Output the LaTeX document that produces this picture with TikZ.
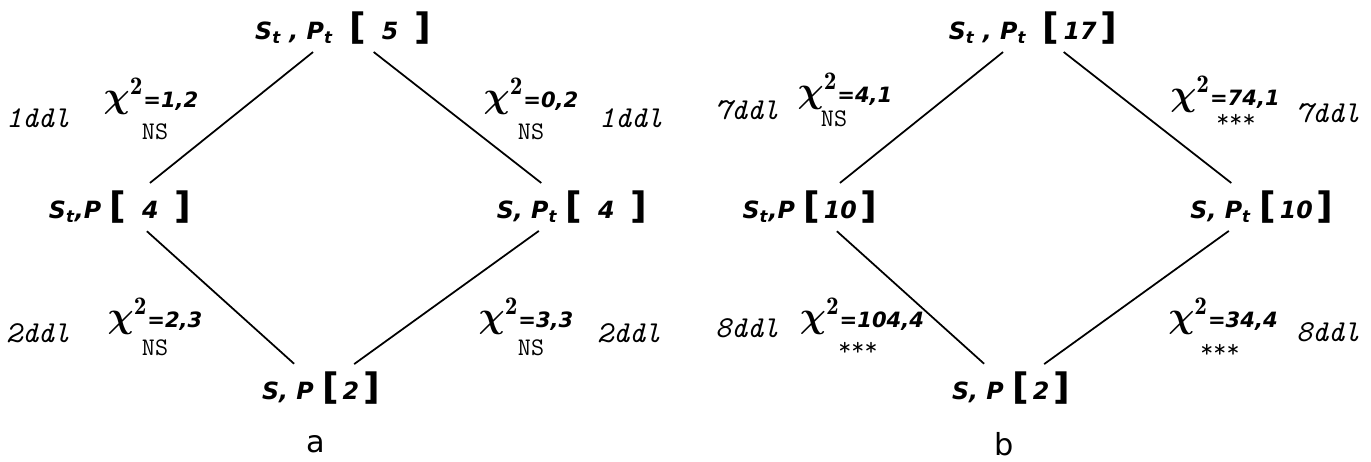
\documentclass[tikz,border=0pt]{standalone}
\usepackage{amsmath}
\usepackage{fontspec}
\setsansfont{DejaVu Sans}
\usetikzlibrary{positioning}
\newcommand{\brk}[1]{{\huge\upshape[}\,#1\,{\huge\upshape]}}
\newcommand{\chisq}[1]{{\huge$\boldsymbol{\chi}^{\mathbf{2}}$}{\large\sffamily\bfseries\itshape=#1}}

\begin{document}
\begin{tikzpicture}[
    set/.style={font=\fontsize{13.5}{15}\selectfont\sffamily\bfseries\itshape, inner sep=3pt},
    stat/.style={inner sep=1pt},
    ddl/.style={font=\LARGE\ttfamily\itshape},
    sig/.style={font=\Large\ttfamily},
    panel/.style={font=\LARGE\sffamily},
    link/.style={line width=1pt, shorten <=2pt, shorten >=2pt}
]
\useasboundingbox (0,0) rectangle (27.42,9.24);

% Panel a
\node[set] (topA) at (6.86,8.68) {S\textsubscript{t} , P\textsubscript{t} \ \brk{\enspace5\enspace}};
\node[set] (leftA) at (2.40,5.10) {S\textsubscript{t},P \brk{\enspace4\enspace}};
\node[set] (rightA) at (11.44,5.10) {S, P\textsubscript{t} \brk{\enspace4\enspace}};
\node[set] (botA) at (6.42,1.48) {S, P \brk{2}};
\node[panel] (labA) at (6.32,0.36) {a};

\draw[link] (topA) -- (leftA);
\draw[link] (topA) -- (rightA);
\draw[link] (leftA) -- (botA);
\draw[link] (rightA) -- (botA);

\node[stat] (c1A) at (3.02,7.32) {\chisq{1,2}};
\node[sig] (s1A) at (3.10,6.60) {NS};
\node[ddl] (d1A) at (0.76,6.88) {1ddl};
\node[stat] (c2A) at (10.62,7.32) {\chisq{0,2}};
\node[sig] (s2A) at (10.62,6.60) {NS};
\node[ddl] (d2A) at (12.62,6.88) {1ddl};
\node[stat] (c3A) at (3.10,2.92) {\chisq{2,3}};
\node[sig] (s3A) at (3.10,2.28) {NS};
\node[ddl] (d3A) at (0.76,2.58) {2ddl};
\node[stat] (c4A) at (10.52,2.92) {\chisq{3,3}};
\node[sig] (s4A) at (10.62,2.28) {NS};
\node[ddl] (d4A) at (12.58,2.58) {2ddl};

% Panel b
\node[set] (topB) at (20.66,8.68) {S\textsubscript{t} , P\textsubscript{t} \ \brk{17}};
\node[set] (leftB) at (16.20,5.10) {S\textsubscript{t},P \brk{10}};
\node[set] (rightB) at (25.24,5.10) {S, P\textsubscript{t} \brk{10}};
\node[set] (botB) at (20.22,1.48) {S, P \brk{2}};
\node[panel] (labB) at (20.08,0.36) {b};

\draw[link] (topB) -- (leftB);
\draw[link] (topB) -- (rightB);
\draw[link] (leftB) -- (botB);
\draw[link] (rightB) -- (botB);

\node[stat] (c1B) at (16.90,7.42) {\chisq{4,1}};
\node[sig] (s1B) at (16.68,6.86) {NS};
\node[ddl] (d1B) at (14.94,7.04) {7ddl};
\node[stat] (c2B) at (24.50,7.36) {\chisq{74,1}};
\node[sig] (s2B) at (24.72,6.82) {***};
\node[ddl] (d2B) at (26.56,6.98) {7ddl};
\node[stat] (c3B) at (17.24,2.92) {\chisq{104,4}};
\node[sig] (s3B) at (17.16,2.26) {***};
\node[ddl] (d3B) at (14.94,2.68) {8ddl};
\node[stat] (c4B) at (24.46,2.92) {\chisq{34,4}};
\node[sig] (s4B) at (24.40,2.22) {***};
\node[ddl] (d4B) at (26.56,2.60) {8ddl};

\end{tikzpicture}
\end{document}
